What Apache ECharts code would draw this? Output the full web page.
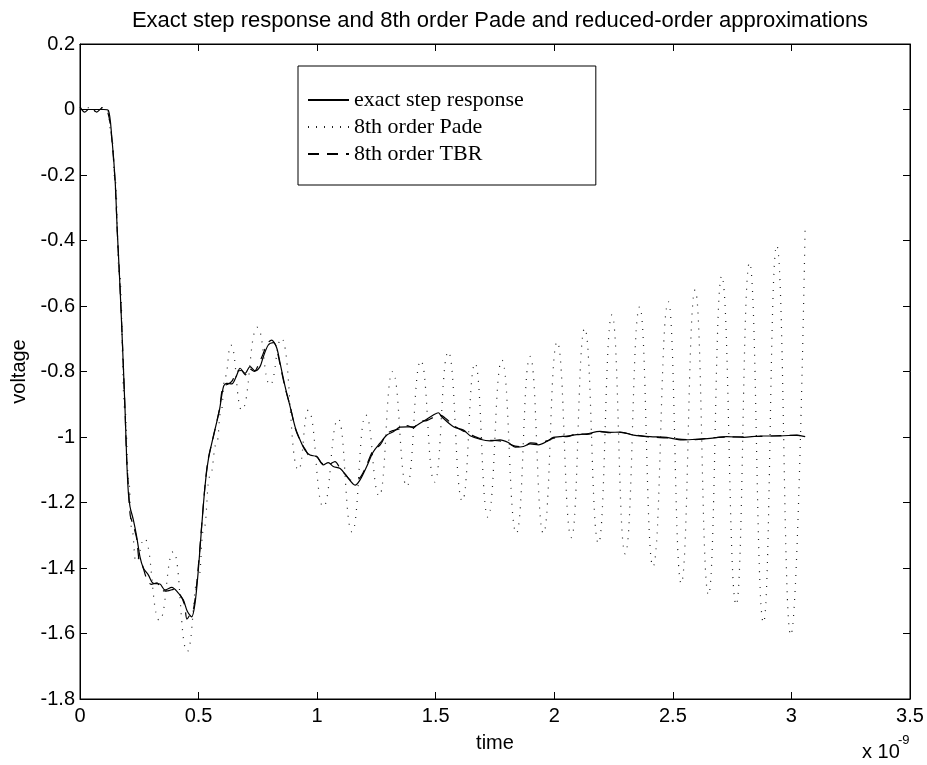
<!DOCTYPE html>
<html>
<head>
<meta charset="utf-8">
<script src="https://cdn.jsdelivr.net/npm/echarts@6/dist/echarts.min.js"></script>
<style>
html, body { margin: 0; padding: 0; background: #fff; }
#stepChart { width: 927px; height: 765px; }
</style>
</head>
<body>
<div id="stepChart"></div>
<script>
// time in units of 1e-9 s, voltage in V
var xTicks = [0, 0.5, 1, 1.5, 2, 2.5, 3, 3.5];
var yTicks = [0.2, 0, -0.2, -0.4, -0.6, -0.8, -1, -1.2, -1.4, -1.6, -1.8];
var seriesNames = ['exact step response', '8th order Pade', '8th order TBR'];

var exactData = [
    [0, 0], [0.05, 0], [0.1, 0], [0.12, -0.003], [0.134, -0.084], [0.148, -0.215],
    [0.157, -0.368], [0.166, -0.5], [0.176, -0.663], [0.19, -0.918], [0.197, -1.07],
    [0.204, -1.171], [0.211, -1.213], [0.225, -1.253], [0.239, -1.304], [0.253, -1.366],
    [0.267, -1.4], [0.288, -1.421], [0.309, -1.447], [0.337, -1.449], [0.358, -1.467],
    [0.387, -1.459], [0.415, -1.477], [0.436, -1.498], [0.453, -1.533], [0.471, -1.549],
    [0.485, -1.508], [0.499, -1.406], [0.513, -1.274], [0.527, -1.152], [0.541, -1.07],
    [0.562, -0.999], [0.588, -0.918], [0.605, -0.846], [0.619, -0.836], [0.64, -0.838],
    [0.661, -0.811], [0.675, -0.79], [0.696, -0.806], [0.717, -0.785], [0.738, -0.798],
    [0.759, -0.785], [0.773, -0.755], [0.794, -0.719], [0.815, -0.712], [0.83, -0.729],
    [0.844, -0.775], [0.865, -0.846], [0.886, -0.907], [0.907, -0.969], [0.928, -1.009],
    [0.949, -1.04], [0.97, -1.055], [0.998, -1.06], [1.026, -1.085], [1.047, -1.078],
    [1.068, -1.09], [1.097, -1.096], [1.125, -1.12], [1.16, -1.147], [1.181, -1.131],
    [1.209, -1.09], [1.237, -1.045], [1.265, -1.019], [1.294, -0.994], [1.321, -0.984],
    [1.35, -0.97], [1.378, -0.969], [1.406, -0.969], [1.434, -0.958], [1.462, -0.946],
    [1.49, -0.933], [1.511, -0.926], [1.525, -0.938], [1.575, -0.969], [1.617, -0.979],
    [1.645, -0.996], [1.687, -1.007], [1.729, -1.012], [1.771, -1.009], [1.806, -1.017],
    [1.835, -1.031], [1.87, -1.029], [1.898, -1.021], [1.933, -1.024], [1.968, -1.014],
    [1.996, -1.001], [2.024, -0.999], [2.053, -0.997], [2.095, -0.993], [2.137, -0.99],
    [2.193, -0.983], [2.235, -0.986], [2.277, -0.985], [2.334, -0.994], [2.404, -0.999],
    [2.474, -1.001], [2.538, -1.009], [2.594, -1.007], [2.657, -1.004], [2.727, -0.999],
    [2.798, -1.001], [2.868, -0.997], [2.952, -0.997], [3.023, -0.994], [3.058, -0.999]
];

var padeData = [
    [0, 0], [0.03, 0.006], [0.06, -0.006], [0.09, 0.006], [0.115, -0.002], [0.134, -0.08],
    [0.148, -0.215], [0.166, -0.5], [0.19, -0.92], [0.205, -1.13], [0.218, -1.28],
    [0.236, -1.38], [0.272, -1.31], [0.335, -1.56], [0.394, -1.35], [0.452, -1.655],
    [0.5, -1.43], [0.522, -1.28], [0.548, -1.12], [0.576, -1.02], [0.595, -0.92],
    [0.612, -0.816], [0.636, -0.719], [0.682, -0.918], [0.748, -0.665], [0.801, -0.841],
    [0.85, -0.699], [0.921, -1.101], [0.963, -0.918], [1.026, -1.213], [1.089, -0.945],
    [1.147, -1.29], [1.205, -0.933], [1.262, -1.18], [1.318, -0.8], [1.378, -1.151],
    [1.437, -0.767], [1.495, -1.138], [1.553, -0.74], [1.612, -1.195], [1.666, -0.775],
    [1.72, -1.245], [1.779, -0.765], [1.84, -1.294], [1.898, -0.754], [1.954, -1.294],
    [2.012, -0.709], [2.072, -1.307], [2.128, -0.668], [2.186, -1.325], [2.243, -0.627],
    [2.299, -1.357], [2.36, -0.602], [2.416, -1.396], [2.481, -0.587], [2.535, -1.447],
    [2.594, -0.551], [2.65, -1.482], [2.706, -0.508], [2.767, -1.513], [2.823, -0.468],
    [2.882, -1.567], [2.938, -0.415], [2.997, -1.605], [3.058, -0.35]
];

var tbrData = [
    [0, 0.008], [0.02, -0.008], [0.045, 0.006], [0.07, -0.008], [0.095, 0.006], [0.115, -0.004],
    [0.13, -0.06], [0.148, -0.22], [0.157, -0.37], [0.166, -0.5], [0.176, -0.66], [0.19, -0.92],
    [0.197, -1.07], [0.204, -1.15], [0.212, -1.24], [0.225, -1.27], [0.239, -1.31], [0.25, -1.38],
    [0.262, -1.39], [0.28, -1.43], [0.3, -1.45], [0.325, -1.445], [0.345, -1.47], [0.37, -1.47],
    [0.395, -1.465], [0.42, -1.48], [0.44, -1.51], [0.451, -1.556], [0.462, -1.545], [0.48, -1.52],
    [0.497, -1.41], [0.512, -1.28], [0.527, -1.15], [0.54, -1.07], [0.562, -1.0], [0.588, -0.915],
    [0.603, -0.845], [0.62, -0.84], [0.64, -0.83], [0.662, -0.8], [0.68, -0.797], [0.697, -0.81],
    [0.712, -0.79], [0.735, -0.8], [0.752, -0.78], [0.77, -0.75], [0.79, -0.715], [0.808, -0.704],
    [0.825, -0.72], [0.844, -0.78], [0.865, -0.85], [0.886, -0.905], [0.907, -0.972], [0.928, -1.01],
    [0.949, -1.037], [0.97, -1.058], [0.995, -1.058], [1.02, -1.08], [1.045, -1.085], [1.075, -1.075],
    [1.1, -1.1], [1.12, -1.115], [1.139, -1.131], [1.16, -1.135], [1.185, -1.12], [1.209, -1.085],
    [1.237, -1.04], [1.265, -1.025], [1.294, -0.99], [1.321, -0.98], [1.35, -0.975], [1.378, -0.965],
    [1.406, -0.972], [1.434, -0.952], [1.462, -0.95], [1.49, -0.94], [1.518, -0.933], [1.545, -0.945],
    [1.575, -0.965], [1.617, -0.982], [1.645, -0.992], [1.687, -1.005], [1.729, -1.01], [1.771, -1.012],
    [1.806, -1.02], [1.835, -1.028], [1.87, -1.03], [1.9, -1.018], [1.933, -1.02], [1.968, -1.012],
    [1.996, -1.004], [2.024, -0.997], [2.053, -0.999], [2.095, -0.991], [2.137, -0.992], [2.193, -0.984],
    [2.235, -0.987], [2.277, -0.986], [2.334, -0.993], [2.404, -1.0], [2.474, -1.003], [2.538, -1.007],
    [2.594, -1.008], [2.657, -1.003], [2.727, -1.0], [2.798, -0.999], [2.868, -0.998], [2.952, -0.996],
    [3.023, -0.995], [3.058, -0.998]
];

var sansFont = 'Liberation Sans';
var serifFont = 'Liberation Serif';

function makeXAxis(pos, showLabel) {
    return {
        type: 'value', position: pos,
        min: xTicks[0], max: xTicks[xTicks.length - 1], interval: 0.5,
        name: showLabel ? 'time' : '', nameLocation: 'middle', nameGap: 34,
        nameTextStyle: { color: '#000', fontFamily: sansFont, fontSize: 20 },
        axisLine: { show: true, onZero: false, lineStyle: { color: '#000', width: 1 } },
        axisTick: { show: true, inside: true, length: 7, lineStyle: { color: '#000' } },
        axisLabel: { show: showLabel, color: '#000', fontFamily: sansFont, fontSize: 20, margin: 7 },
        splitLine: { show: false }
    };
}

function makeYAxis(pos, showLabel) {
    return {
        type: 'value', position: pos,
        min: yTicks[yTicks.length - 1], max: yTicks[0], interval: 0.2,
        name: showLabel ? 'voltage' : '', nameLocation: 'middle', nameGap: 47,
        nameTextStyle: { color: '#000', fontFamily: sansFont, fontSize: 20 },
        axisLine: { show: true, onZero: false, lineStyle: { color: '#000', width: 1 } },
        axisTick: { show: true, inside: true, length: 7, lineStyle: { color: '#000' } },
        axisLabel: {
            show: showLabel, color: '#000', fontFamily: sansFont, fontSize: 20, margin: 5,
            formatter: function (v) { return String(Math.round(v * 10) / 10); }
        },
        splitLine: { show: false }
    };
}

var stepChart = echarts.init(document.getElementById('stepChart'));
var option = {
    animation: false,
    backgroundColor: '#fff',
    title: {
        text: 'Exact step response and 8th order Pade and reduced-order approximations',
        left: 495, top: 5, textAlign: 'center',
        textStyle: { color: '#000', fontFamily: sansFont, fontSize: 22, fontWeight: 'normal' }
    },
    grid: { left: 80, right: 17, top: 44, bottom: 66, show: true, borderColor: '#000', borderWidth: 1 },
    legend: {
        orient: 'vertical', left: 298, top: 66,
        itemWidth: 41, itemHeight: 10, itemGap: 5,
        padding: [23, 72, 20, 9],
        borderColor: '#000', borderWidth: 1, backgroundColor: '#fff',
        itemStyle: { opacity: 0 },
        textStyle: { color: '#000', fontFamily: serifFont, fontSize: 22 },
        data: seriesNames
    },
    xAxis: [makeXAxis('bottom', true), makeXAxis('top', false)],
    yAxis: [makeYAxis('left', true), makeYAxis('right', false)],
    graphic: [
        { type: 'text', left: 862, top: 742, style: { text: 'x 10', fill: '#000', font: '20px "Liberation Sans"' } },
        { type: 'text', left: 898, top: 734, style: { text: '-9', fill: '#000', font: '13px "Liberation Sans"' } }
    ],
    series: [
        {
            name: seriesNames[0], type: 'line', data: exactData, symbol: 'none', smooth: 0.3,
            itemStyle: { color: '#000' },
            lineStyle: { color: '#000', width: 1.2, type: 'solid' }, z: 4
        },
        {
            name: seriesNames[1], type: 'line', data: padeData, symbol: 'none', smooth: 0.5,
            smoothMonotone: 'x', itemStyle: { color: '#000' },
            lineStyle: { color: '#222', width: 1.2, type: [1, 7] }, z: 2
        },
        {
            name: seriesNames[2], type: 'line', data: tbrData, symbol: 'none', smooth: 0.3,
            itemStyle: { color: '#000' },
            lineStyle: { color: '#000', width: 1.2, type: [11, 8] }, z: 3
        }
    ]
};
stepChart.setOption(option);
</script>
</body>
</html>
